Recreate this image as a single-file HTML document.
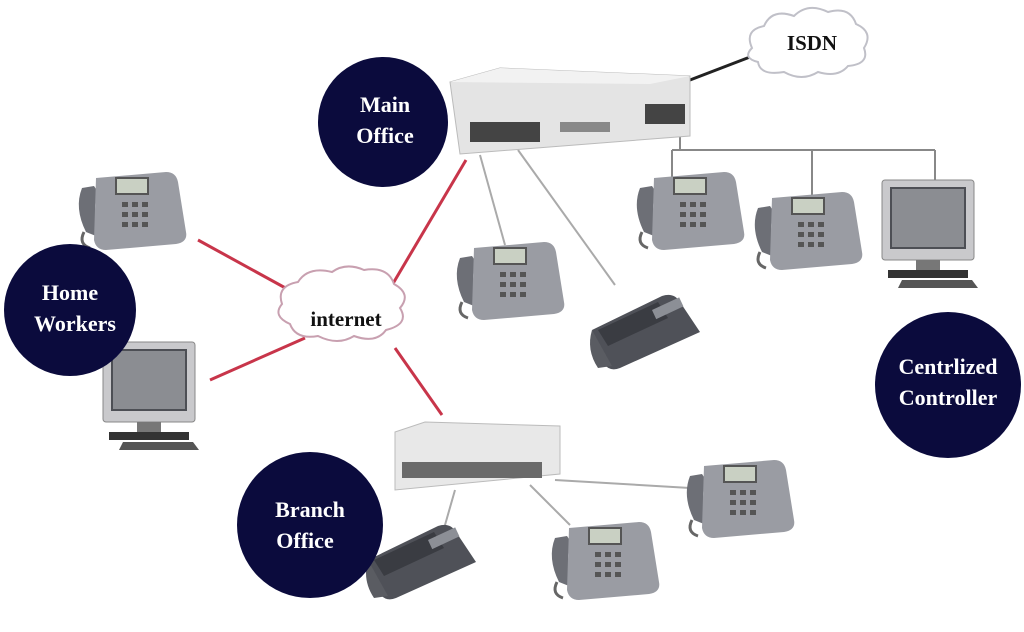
<!DOCTYPE html>
<html><head><meta charset="utf-8"><style>
html,body{margin:0;padding:0;background:#fff;width:1024px;height:632px;overflow:hidden}
svg text{font-family:"Liberation Serif",serif;font-weight:bold}
</style></head><body>
<svg width="1024" height="632" viewBox="0 0 1024 632" xmlns="http://www.w3.org/2000/svg">
<defs>
<g id="phone">
  <path d="M0,18 q-8,20 4,44 l10,4 l2,-8 q-6,-18 0,-36 l-4,-6z" fill="#6d6f76"/>
  <path d="M14,8 l70,-6 q10,0 12,10 l8,50 q2,10 -10,12 l-70,6 q-10,0 -12,-10 z" fill="#9a9ca3"/>
  <rect x="34" y="8" width="32" height="16" fill="#c9d0c3" stroke="#555" stroke-width="2"/>
  <g fill="#555"><rect x="40" y="32" width="6" height="5"/><rect x="50" y="32" width="6" height="5"/><rect x="60" y="32" width="6" height="5"/>
  <rect x="40" y="42" width="6" height="5"/><rect x="50" y="42" width="6" height="5"/><rect x="60" y="42" width="6" height="5"/>
  <rect x="40" y="52" width="6" height="5"/><rect x="50" y="52" width="6" height="5"/><rect x="60" y="52" width="6" height="5"/></g>
  <path d="M2,62 q-6,12 6,16" stroke="#666" stroke-width="3" fill="none"/>
</g>
<g id="dphone">
  <path d="M0,40 l70,-34 q12,-4 18,6 l20,30 l-80,36 q-10,4 -16,-4z" fill="#4f5158"/>
  <path d="M6,40 l60,-28 l10,16 l-60,28z" fill="#3a3c42"/>
  <rect x="60" y="20" width="30" height="10" fill="#8c8f96" transform="rotate(-25 60 20)"/>
  <path d="M0,40 q-6,20 6,38 l14,-2" fill="#5a5c62"/>
</g>
<g id="monitor">
  <rect x="0" y="0" width="92" height="80" rx="3" fill="#c9c9cc" stroke="#888"/>
  <rect x="8" y="7" width="76" height="62" fill="#4d4f55"/>
  <rect x="10" y="9" width="72" height="58" fill="#8b8d92"/>
  <rect x="34" y="80" width="24" height="10" fill="#777"/>
  <rect x="6" y="90" width="80" height="8" fill="#333"/>
  <path d="M20,100 l70,0 l6,8 l-80,0z" fill="#555"/>
</g>
</defs>

<!-- lines -->
<g stroke="#c8354a" stroke-width="3">
<line x1="198" y1="240" x2="300" y2="296"/>
<line x1="210" y1="380" x2="305" y2="338"/>
<line x1="388" y1="292" x2="466" y2="160"/>
<line x1="395" y1="348" x2="442" y2="415"/>
</g>
<g stroke="#aaa" stroke-width="2" fill="none">
<line x1="480" y1="155" x2="505" y2="245"/>
<line x1="518" y1="150" x2="615" y2="285"/>
<line x1="455" y1="490" x2="445" y2="525"/>
<line x1="530" y1="485" x2="570" y2="525"/>
<line x1="555" y1="480" x2="690" y2="488"/>
</g>
<g stroke="#888" stroke-width="2" fill="none">
<path d="M680,118 V150 M672,150 H935 M672,150 V178 M812,150 V198 M935,150 V180"/>
</g>
<line x1="690" y1="80" x2="750" y2="57" stroke="#222" stroke-width="3"/>

<!-- ISDN cloud -->
<g fill="#fff" stroke="#c0c0c8" stroke-width="2">
<path d="M752,48 q-8,-18 12,-22 q8,-18 30,-10 q14,-14 34,-4 q22,-6 28,12 q18,8 8,24 q6,16 -16,18 q-10,12 -30,6 q-16,10 -34,0 q-24,4 -26,-10 q-16,-4 -6,-14z"/>
</g>
<text x="812" y="50" font-size="21" text-anchor="middle" fill="#111">ISDN</text>
<!-- internet cloud -->
<path d="M282,304 q-6,-18 16,-22 q10,-16 34,-10 q14,-10 32,-2 q24,-4 30,14 q18,10 6,24 q10,16 -14,22 q-10,14 -32,6 q-16,10 -36,0 q-22,4 -28,-12 q-18,-8 -8,-20z" fill="#fff" stroke="#c8a0b0" stroke-width="2"/>
<text x="346" y="326" font-size="21" text-anchor="middle" fill="#111">internet</text>

<!-- main switch -->
<path d="M450,82 l50,-14 l190,8 l0,60 l-230,18z" fill="#e4e4e4" stroke="#bbb"/>
<path d="M450,82 l50,-14 l190,8 l-40,8z" fill="#f2f2f2"/>
<rect x="470" y="122" width="70" height="20" fill="#444"/>
<rect x="560" y="122" width="50" height="10" fill="#888"/>
<rect x="645" y="104" width="40" height="20" fill="#444"/>
<!-- branch switch -->
<path d="M395,432 l30,-10 l135,4 l0,48 l-165,16z" fill="#e8e8e8" stroke="#bbb"/>
<rect x="402" y="462" width="140" height="16" fill="#6a6a6a"/>

<!-- phones -->
<use href="#phone" x="82" y="170"/>
<use href="#phone" x="460" y="240"/>
<use href="#phone" x="640" y="170"/>
<use href="#phone" x="758" y="190"/>
<use href="#phone" x="690" y="458"/>
<use href="#phone" x="555" y="520"/>
<use href="#dphone" x="592" y="290"/>
<use href="#dphone" x="368" y="520"/>
<use href="#monitor" x="103" y="342"/>
<use href="#monitor" x="882" y="180"/>

<!-- circles -->
<g fill="#0b0b3d">
<circle cx="383" cy="122" r="65"/>
<circle cx="70" cy="310" r="66"/>
<circle cx="310" cy="525" r="73"/>
<circle cx="948" cy="385" r="73"/>
</g>
<g fill="#fff" font-size="22" text-anchor="middle">
<text x="385" y="112">Main</text><text x="385" y="143">Office</text>
<text x="70" y="300">Home</text><text x="75" y="331">Workers</text>
<text x="310" y="517">Branch</text><text x="305" y="548">Office</text>
<text x="948" y="374">Centrlized</text><text x="948" y="405">Controller</text>
</g>
</svg>
</body></html>
